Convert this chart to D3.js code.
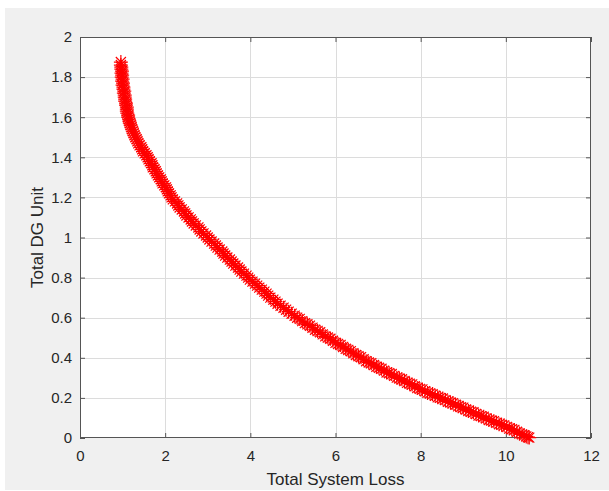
<!DOCTYPE html>
<html>
<head>
<meta charset="utf-8">
<script src="https://cdn.jsdelivr.net/npm/d3@7"></script>
<style>
  html, body { margin: 0; padding: 0; background: #ffffff; }
  svg { display: block; }
  text { font-family: "Liberation Sans", Arial, Helvetica, sans-serif; fill: #262626; }
</style>
</head>
<body>
<svg id="chart" width="609" height="491"></svg>
<script>
// Pareto front: total system loss vs. total DG unit
const lossValues = [
  0.96, 0.96, 0.97, 0.975, 0.98, 0.99, 1.00, 1.02, 1.03, 1.05,
  1.06, 1.08, 1.10, 1.11, 1.13, 1.16, 1.19, 1.22, 1.26, 1.30,
  1.35, 1.40, 1.46, 1.52, 1.59, 1.64, 1.70, 1.75, 1.80, 1.86,
  1.92, 1.98, 2.04, 2.09, 2.15, 2.23, 2.31, 2.39, 2.47, 2.55,
  2.63, 2.72, 2.81, 2.90, 3.00, 3.09, 3.19, 3.28, 3.37, 3.46,
  3.56, 3.65, 3.75, 3.85, 3.95, 4.05, 4.16, 4.27, 4.38, 4.47,
  4.59, 4.71, 4.84, 4.97, 5.10, 5.22, 5.34, 5.46, 5.58, 5.70,
  5.82, 5.94, 6.06, 6.18, 6.30, 6.42, 6.54, 6.66, 6.78, 6.90,
  7.02, 7.14, 7.26, 7.38, 7.50, 7.62, 7.74, 7.86, 7.98, 8.10,
  8.22, 8.34, 8.46, 8.58, 8.70, 8.82, 8.94, 9.06, 9.18, 9.30,
  9.42, 9.54, 9.66, 9.78, 9.90, 10.02, 10.14, 10.26, 10.38, 10.48,
  10.55,
  0.97, 0.985, 0.99, 1.00, 1.01, 1.02, 1.04, 1.05, 1.06, 1.08,
  1.10, 1.10, 1.13, 1.15, 1.17, 1.21, 1.24, 1.28, 1.33, 1.37,
  1.44, 1.48, 1.56, 1.61, 1.68, 1.71, 1.78, 1.83, 1.90, 1.94,
  2.02, 2.06, 2.13, 2.18, 2.28, 2.34, 2.44, 2.50, 2.60, 2.67,
  2.78, 2.85, 2.96, 3.04, 3.15, 3.23, 3.34, 3.41, 3.52, 3.60,
  3.71, 3.79, 3.91, 3.99, 4.11, 4.21, 4.33, 4.42, 4.54, 4.64,
  4.78, 4.90, 5.04, 5.16, 5.28, 5.40, 5.52, 5.64, 5.76, 5.88,
  6.00, 6.12, 6.24, 6.36, 6.48, 6.60, 6.72, 6.84, 6.96, 7.08,
  7.20, 7.32, 7.44, 7.56, 7.68, 7.80, 7.92, 8.04, 8.16, 8.28,
  8.40, 8.52, 8.64, 8.76, 8.88, 9.00, 9.12, 9.24, 9.36, 9.48,
  9.60, 9.72, 9.84, 9.96, 10.08, 10.20, 10.32, 10.43, 10.52
];
const dgValues = [
  1.875, 1.86, 1.84, 1.82, 1.80, 1.78, 1.76, 1.74, 1.72, 1.70,
  1.68, 1.66, 1.64, 1.62, 1.60, 1.58, 1.56, 1.54, 1.52, 1.50,
  1.48, 1.46, 1.44, 1.42, 1.40, 1.38, 1.36, 1.34, 1.32, 1.30,
  1.28, 1.26, 1.24, 1.22, 1.20, 1.18, 1.16, 1.14, 1.12, 1.10,
  1.08, 1.06, 1.04, 1.02, 1.00, 0.98, 0.96, 0.94, 0.92, 0.90,
  0.88, 0.86, 0.84, 0.82, 0.80, 0.78, 0.76, 0.74, 0.72, 0.70,
  0.68, 0.66, 0.64, 0.62, 0.60, 0.583, 0.567, 0.550, 0.534, 0.517,
  0.501, 0.485, 0.469, 0.454, 0.439, 0.423, 0.408, 0.393, 0.377, 0.364,
  0.350, 0.336, 0.323, 0.310, 0.297, 0.284, 0.271, 0.258, 0.245, 0.233,
  0.222, 0.211, 0.200, 0.189, 0.177, 0.166, 0.154, 0.142, 0.131, 0.120,
  0.109, 0.098, 0.087, 0.076, 0.066, 0.055, 0.044, 0.031, 0.018, 0.008,
  0.002,
  1.85, 1.83, 1.81, 1.79, 1.77, 1.75, 1.73, 1.71, 1.69, 1.67,
  1.65, 1.63, 1.61, 1.59, 1.57, 1.55, 1.53, 1.51, 1.49, 1.47,
  1.45, 1.43, 1.41, 1.39, 1.37, 1.35, 1.33, 1.31, 1.29, 1.27,
  1.25, 1.23, 1.21, 1.19, 1.17, 1.15, 1.13, 1.11, 1.09, 1.07,
  1.05, 1.03, 1.01, 0.99, 0.97, 0.95, 0.93, 0.91, 0.89, 0.87,
  0.85, 0.83, 0.81, 0.79, 0.77, 0.75, 0.73, 0.71, 0.69, 0.67,
  0.65, 0.63, 0.61, 0.594, 0.573, 0.560, 0.540, 0.527, 0.507, 0.495,
  0.475, 0.464, 0.445, 0.433, 0.414, 0.403, 0.383, 0.373, 0.355, 0.345,
  0.327, 0.319, 0.301, 0.293, 0.275, 0.267, 0.249, 0.242, 0.225, 0.219,
  0.203, 0.197, 0.181, 0.174, 0.158, 0.151, 0.135, 0.128, 0.112, 0.106,
  0.090, 0.084, 0.069, 0.063, 0.047, 0.040, 0.022, 0.014, 0.004
];
const xTicks = [0, 2, 4, 6, 8, 10, 12];
const yTicks = [0, 0.2, 0.4, 0.6, 0.8, 1, 1.2, 1.4, 1.6, 1.8, 2];
const xLabel = "Total System Loss";
const yLabel = "Total DG Unit";

const svg = d3.select("#chart");
const W = 609, H = 491;
const plot = { left: 80, right: 591, top: 37, bottom: 438 };
const pw = plot.right - plot.left, ph = plot.bottom - plot.top;

// figure background
svg.append("rect").attr("x", 5).attr("y", 8).attr("width", W - 5).attr("height", H - 9)
  .attr("fill", "#f0f0f0");

const x = d3.scaleLinear().domain([0, 12]).range([plot.left, plot.right]);
const y = d3.scaleLinear().domain([0, 2]).range([plot.bottom, plot.top]);

// axes area
svg.append("rect").attr("x", plot.left).attr("y", plot.top).attr("width", pw).attr("height", ph)
  .attr("fill", "#ffffff");

// grid lines
const grid = svg.append("g").attr("class", "grid");
grid.selectAll("line.gx").data(xTicks.slice(1, -1)).join("line")
  .attr("x1", d => Math.round(x(d)) + 0.5).attr("x2", d => Math.round(x(d)) + 0.5)
  .attr("y1", plot.top).attr("y2", plot.bottom)
  .attr("stroke", "#dcdcdc").attr("stroke-width", 1);
grid.selectAll("line.gy").data(yTicks.slice(1, -1)).join("line")
  .attr("y1", d => Math.round(y(d)) + 0.5).attr("y2", d => Math.round(y(d)) + 0.5)
  .attr("x1", plot.left).attr("x2", plot.right)
  .attr("stroke", "#dcdcdc").attr("stroke-width", 1);

// box and ticks
const axisColor = "#555555";
function styleAxis(g) {
  g.select(".domain").remove();
  g.selectAll(".tick line").attr("stroke", axisColor);
  g.selectAll(".tick text").attr("fill", "#262626").style("font-size", "15px")
    .style("font-family", "'Liberation Sans', Arial, sans-serif");
}
svg.append("g").attr("transform", `translate(0,${plot.bottom})`)
  .call(d3.axisBottom(x).tickValues(xTicks).tickFormat(d3.format("d")).tickSize(-5).tickPadding(12))
  .call(styleAxis);
svg.append("g").attr("transform", `translate(${plot.left},0)`)
  .call(d3.axisLeft(y).tickValues(yTicks).tickFormat(d => String(+d.toFixed(1))).tickSize(-5).tickPadding(8))
  .call(styleAxis);
svg.append("g").attr("transform", `translate(0,${plot.top})`)
  .call(d3.axisTop(x).tickValues(xTicks).tickSize(-5).tickFormat(""))
  .call(styleAxis);
svg.append("g").attr("transform", `translate(${plot.right},0)`)
  .call(d3.axisRight(y).tickValues(yTicks).tickSize(-5).tickFormat(""))
  .call(styleAxis);
svg.append("rect").attr("x", plot.left + 0.5).attr("y", plot.top + 0.5)
  .attr("width", pw - 1).attr("height", ph - 1)
  .attr("fill", "none").attr("stroke", axisColor).attr("stroke-width", 1);

// axis labels
svg.append("text").attr("x", (plot.left + plot.right) / 2).attr("y", 485)
  .attr("text-anchor", "middle").style("font-size", "17px").text(xLabel);
svg.append("text").attr("transform", `translate(43,${(plot.top + plot.bottom) / 2}) rotate(-90)`)
  .attr("text-anchor", "middle").style("font-size", "17px").text(yLabel);

// asterisk markers
const points = lossValues.map((v, i) => ({ loss: v, dg: dgValues[i] }));
const r = 7, rd = r * 0.72;
const starPath = `M0,${-r}V${r}M${-r},0H${r}M${-rd},${-rd}L${rd},${rd}M${-rd},${rd}L${rd},${-rd}`;
svg.append("g").selectAll("path").data(points).join("path")
  .attr("transform", d => `translate(${x(d.loss)},${y(d.dg)})`)
  .attr("d", starPath)
  .attr("fill", "none").attr("stroke", "#ff0000").attr("stroke-width", 1.2);
</script>
</body>
</html>
